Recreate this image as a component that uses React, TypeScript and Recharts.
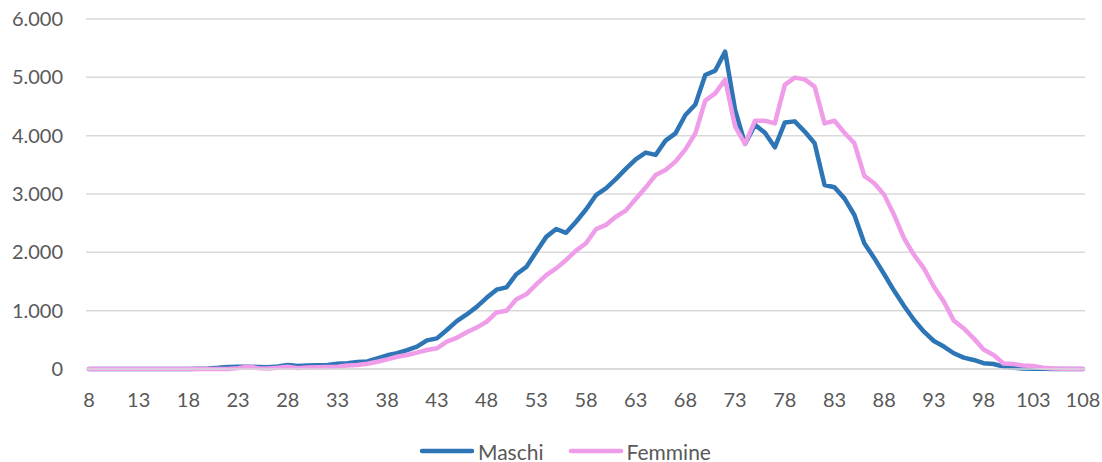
import React from 'react';
import { LineChart, Line, XAxis, YAxis, CartesianGrid, Legend } from 'recharts';

const ages = [
  8, 9, 10, 11, 12, 13, 14, 15, 16, 17, 18, 19, 20, 21, 22, 23, 24, 25, 26, 27,
  28, 29, 30, 31, 32, 33, 34, 35, 36, 37, 38, 39, 40, 41, 42, 43, 44, 45, 46, 47,
  48, 49, 50, 51, 52, 53, 54, 55, 56, 57, 58, 59, 60, 61, 62, 63, 64, 65, 66, 67,
  68, 69, 70, 71, 72, 73, 74, 75, 76, 77, 78, 79, 80, 81, 82, 83, 84, 85, 86, 87,
  88, 89, 90, 91, 92, 93, 94, 95, 96, 97, 98, 99, 100, 101, 102, 103, 104, 105, 106, 107,
  108,
];

// ages 8..108
const maschi = [
  0, 0, 0, 0, 0, 0, 0, 0, 0, 0, 0, 5, 10, 20, 35, 40, 40, 35, 30, 45,
  70, 50, 60, 65, 70, 90, 100, 120, 130, 180, 235, 270, 325, 385, 490, 525, 670, 820, 935, 1065,
  1220, 1360, 1400, 1625, 1750, 2010, 2265, 2400, 2335, 2525, 2735, 2980, 3095, 3255, 3430, 3595, 3710, 3670, 3915, 4040,
  4355, 4535, 5040, 5115, 5440, 4440, 3860, 4185, 4050, 3800, 4225, 4245, 4070, 3870, 3155, 3115, 2925, 2640, 2155, 1900,
  1625, 1340, 1080, 840, 640, 480, 385, 270, 195, 155, 100, 85, 40, 20, 10, 5, 3, 1, 0, 0,
  0,
];

const femmine = [
  0, 0, 0, 0, 0, 0, 0, 0, 0, 0, 0, 0, 0, 0, 0, 15, 40, 15, 10, 20,
  40, 15, 25, 30, 35, 40, 60, 70, 90, 125, 165, 210, 240, 280, 325, 355, 470, 535, 630, 710,
  810, 970, 1000, 1195, 1280, 1450, 1610, 1725, 1870, 2030, 2155, 2395, 2470, 2610, 2715, 2915, 3110, 3325, 3410, 3555,
  3765, 4040, 4600, 4725, 4960, 4155, 3860, 4255, 4255, 4210, 4870, 4995, 4965, 4840, 4210, 4255, 4050, 3870, 3310, 3185,
  2985, 2640, 2240, 1955, 1725, 1410, 1155, 830, 695, 525, 335, 240, 95, 85, 60, 50, 20, 10, 5, 2,
  0,
];

const yTicks = [0, 1000, 2000, 3000, 4000, 5000, 6000];

const seriesNames = ['Maschi', 'Femmine'];
const BLUE = '#2e75b6';
const PINK = '#f09de9';

const data = ages.map((age, i) => ({ age, Maschi: maschi[i], Femmine: femmine[i] }));

const fmt = (v: number) => String(v).replace(/\B(?=(\d{3})+(?!\d))/g, '.');

const FONT = 'Lato, "Liberation Sans", sans-serif';

function LegendBox() {
  const items = [
    { name: seriesNames[0], color: BLUE },
    { name: seriesNames[1], color: PINK },
  ];
  return (
    <div style={{ display: 'flex', alignItems: 'center', height: 20, paddingLeft: 419, fontFamily: FONT, fontSize: 21, color: '#595959' }}>
      {items.map((it, i) => (
        <div key={it.name} style={{ display: 'flex', alignItems: 'center', marginRight: i === 0 ? 24 : 0 }}>
          <svg width={56} height={8} style={{ marginRight: 3 }}>
            <line x1={3} y1={4} x2={53} y2={4} stroke={it.color} strokeWidth={4.5} strokeLinecap="round" />
          </svg>
          <span>{it.name}</span>
        </div>
      ))}
    </div>
  );
}

export default function App() {
  return (
    <div style={{ position: 'absolute', left: 0, top: 0, width: 1102, height: 462, background: '#fff' }}>
      <LineChart width={1102} height={462} data={data} margin={{ top: 19, right: 17, left: 10, bottom: 2 }}>
        <CartesianGrid vertical={false} stroke="#d9d9d9" strokeWidth={1.5} />
        <XAxis
          dataKey="age"
          interval={4}
          axisLine={{ stroke: '#d9d9d9', strokeWidth: 1.5 }}
          tickLine={false}
          tickSize={0}
          tickMargin={24}
          height={71}
          padding={{ left: 3, right: 2 }}
          tick={{ fill: '#595959', fontSize: 20, fontFamily: FONT }}
        />
        <YAxis
          domain={[0, 6000]}
          ticks={yTicks}
          tickFormatter={fmt}
          axisLine={false}
          tickLine={false}
          tickSize={0}
          tickMargin={23}
          width={76}
          tick={{ fill: '#595959', fontSize: 20, fontFamily: FONT }}
        />
        <Legend verticalAlign="bottom" content={() => <LegendBox />} wrapperStyle={{ bottom: 1, left: 0, width: 1102 }} />
        <Line type="linear" dataKey="Maschi" stroke={BLUE} strokeWidth={4.5} dot={false} strokeLinejoin="round" strokeLinecap="round" isAnimationActive={false} />
        <Line type="linear" dataKey="Femmine" stroke={PINK} strokeWidth={4.5} dot={false} strokeLinejoin="round" strokeLinecap="round" isAnimationActive={false} />
      </LineChart>
    </div>
  );
}
